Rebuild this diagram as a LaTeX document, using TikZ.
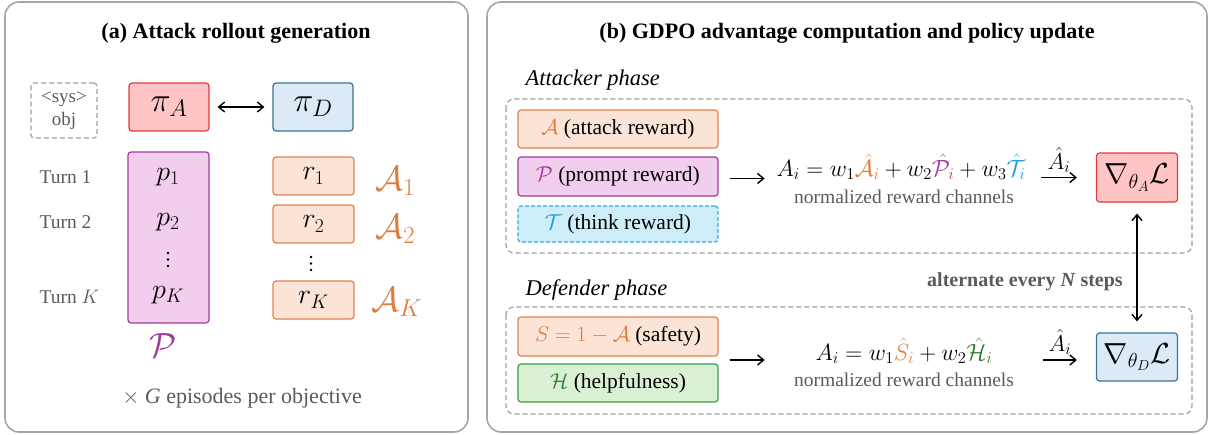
\RequirePackage{fix-cm}
\documentclass[tikz,border=0pt]{standalone}
\usepackage{fontspec}
\setmainfont{Liberation Serif}
\usetikzlibrary{arrows.meta,calc}
\definecolor{panelgray}{HTML}{A6A6A6}
\definecolor{dashgray}{HTML}{A0A0A0}
\definecolor{redfill}{HTML}{FFC5C5}
\definecolor{redline}{HTML}{E03A3A}
\definecolor{bluefill}{HTML}{DCE9F6}
\definecolor{blueline}{HTML}{3C728F}
\definecolor{pinkfill}{HTML}{F1CDEE}
\definecolor{purp}{HTML}{A03A9E}
\definecolor{orfill}{HTML}{FBE4D6}
\definecolor{orline}{HTML}{E2814F}
\definecolor{orangeA}{HTML}{E27A3A}
\definecolor{cyanfill}{HTML}{CDEDF9}
\definecolor{cyanline}{HTML}{3AA6D8}
\definecolor{cyanT}{HTML}{1E9FD8}
\definecolor{greenfill}{HTML}{D9F0D3}
\definecolor{greenline}{HTML}{3E9A48}
\definecolor{greenH}{HTML}{2F7D32}
\definecolor{txtgray}{HTML}{5A5A5A}
\newcommand\fsz[1]{\fontsize{#1}{#1}\selectfont}
\begin{document}
\begin{tikzpicture}[x=1pt,y=-1pt,
  panel/.style={draw=panelgray,line width=1.6pt,rounded corners=14pt},
  phasebox/.style={draw=dashgray,line width=1.2pt,dash pattern=on 5pt off 3pt,rounded corners=8pt},
  box/.style={rectangle,rounded corners=3pt,line width=1.2pt,inner sep=0pt},
  redbox/.style={box,draw=redline,fill=redfill},
  bluebox/.style={box,draw=blueline,fill=bluefill},
  orbox/.style={box,draw=orline,fill=orfill},
  arr/.style={-{Straight Barb[length=6pt,width=10pt]},line width=1.4pt},
  darr/.style={{Straight Barb[length=6pt,width=10pt]}-{Straight Barb[length=6pt,width=10pt]},line width=1.4pt},
  title/.style={font=\fsz{22}\bfseries},
  turn/.style={anchor=west,text=txtgray,font=\fsz{19.5}},
  lbl/.style={font=\fsz{21.5}},
  gray note/.style={text=txtgray,font=\fsz{19.5}},
  phase/.style={anchor=west,font=\fsz{22.5}\itshape},
  pmath/.style={font=\fsz{28}},
  bigA/.style={anchor=west,text=orangeA,font=\fsz{35}},
  frm/.style={font=\fsz{23.5},inner sep=0pt},
  grad/.style={font=\fsz{29}},
  vdot/.style={circle,fill=black,inner sep=0pt,minimum size=2.8pt}]
\useasboundingbox (0,0) rectangle (1210,434);
% panels
\draw[panel] (5,2) rectangle (468,432);
\draw[panel] (487,2) rectangle (1207,432);
% ---------- panel (a)
\node[title] (ta) at (236,33) {(a) Attack rollout generation};
\node[draw=dashgray,line width=1.2pt,dash pattern=on 5pt off 3pt,rounded corners=3pt,
      minimum width=66pt,minimum height=55pt,align=center,text=txtgray,font=\fontsize{19}{23}\selectfont]
      (sys) at (64,110.5) {\textless sys\textgreater\\obj};
\node[redbox,minimum width=80pt,minimum height=48pt,font=\fsz{34}] (piA) at (169,107) {$\pi_A$};
\node[bluebox,minimum width=80pt,minimum height=48pt,font=\fsz{34}] (piD) at (313,107) {$\pi_D$};
\draw[darr,shorten <=8pt,shorten >=8pt] (piA.east) -- (piD.west);
\node[box,draw=purp,fill=pinkfill,minimum width=81pt,minimum height=171pt] (Pcol) at (168.5,237.5) {};
\node[pmath] (p1) at (168,177) {$p_1$};
\node[pmath] (p2) at (168,222) {$p_2$};
\node[vdot] (pd1) at (168,253) {};
\node[vdot] (pd2) at (168,259.5) {};
\node[vdot] (pd3) at (168,266) {};
\node[pmath] (pK) at (168,295) {$p_K$};
\node[turn] (t1) at (36,177) {Turn 1};
\node[turn] (t2) at (36,222) {Turn 2};
\node[turn] (tK) at (36,297) {Turn $K$};
\node[orbox,minimum width=81pt,minimum height=38pt,pmath] (r1) at (313.5,176) {$r_1$};
\node[orbox,minimum width=81pt,minimum height=38pt,pmath] (r2) at (313.5,224) {$r_2$};
\node[vdot] (rd1) at (311,257) {};
\node[vdot] (rd2) at (311,263.5) {};
\node[vdot] (rd3) at (311,270) {};
\node[orbox,minimum width=81pt,minimum height=38pt,pmath] (rK) at (313.5,300) {$r_K$};
\node[bigA] (A1) at (372,181) {$\mathcal{A}_1$};
\node[bigA] (A2) at (372,229) {$\mathcal{A}_2$};
\node[bigA] (AK) at (368,302) {$\mathcal{A}_K$};
\node[text=purp,font=\fsz{35}] (Pcal) at (163,346) {$\mathcal{P}$};
\node[text=txtgray,font=\fsz{22}] (eps) at (242,398) {$\times$ \textit{G} episodes per objective};
% ---------- panel (b)
\node[title] (tb) at (847,33) {(b) GDPO advantage computation and policy update};
\node[phase] (att) at (522,80) {Attacker phase};
\draw[phasebox] (506,99) rectangle (1192,253);
\node[orbox,minimum width=200pt,minimum height=38pt,lbl] (Ab) at (618,129) {\textcolor{orangeA}{$\mathcal{A}$} (attack reward)};
\node[box,draw=purp,fill=pinkfill,minimum width=200pt,minimum height=39pt,lbl] (Pb) at (618,176.5) {\textcolor{purp}{$\mathcal{P}$} (prompt reward)};
\node[box,draw=cyanline,fill=cyanfill,dash pattern=on 4pt off 2pt,minimum width=200pt,minimum height=36pt,lbl] (Tb) at (618,224) {\textcolor{cyanT}{$\mathcal{T}$} (think reward)};
\node[frm] (fA) at (901,167)
  {$A_i = w_1{\color{orangeA}\hat{\mathcal{A}}_i} + w_2{\color{purp}\hat{\mathcal{P}}_i} + w_3{\color{cyanT}\hat{\mathcal{T}}_i}$};
\node[gray note] (nA) at (904,197) {normalized reward channels};
\node[redbox,minimum width=81pt,minimum height=49pt,grad] (gA) at (1137,177.5) {$\nabla_{\theta_A}\mathcal{L}$};
\draw[arr] ($(Pb.east)+(11,2)$) -- ($(Pb.east)+(46,2)$);
\draw[arr] ($(gA.west)+(-55,0)$) -- node[above=1pt,font=\fsz{23}] (hA) {$\hat{A}_i$} ($(gA.west)+(-19,0)$);
\node[phase] (def) at (522,290) {Defender phase};
\draw[phasebox] (506,307) rectangle (1192,414);
\node[orbox,minimum width=200pt,minimum height=39pt,lbl] (Sb) at (618,336.5) {\textcolor{orangeA}{$S = 1 - \mathcal{A}$} (safety)};
\node[box,draw=greenline,fill=greenfill,minimum width=200pt,minimum height=38pt,lbl] (Hb) at (618,383) {\textcolor{greenH}{$\mathcal{H}$} (helpfulness)};
\node[frm] (fD) at (904,351)
  {$A_i = w_1{\color{orangeA}\hat{S}_i} + w_2{\color{greenH}\hat{\mathcal{H}}_i}$};
\node[gray note] (nD) at (904,380) {normalized reward channels};
\node[bluebox,minimum width=81pt,minimum height=48pt,grad] (gD) at (1137,357) {$\nabla_{\theta_D}\mathcal{L}$};
\coordinate (mid) at ($(Sb.south east)!0.5!(Hb.north east)$);
\draw[arr] ($(mid)+(11,0)$) -- ($(mid)+(46,0)$);
\draw[arr] ($(gD.west)+(-53,3)$) -- node[above=1pt,font=\fsz{23}] (hD) {$\hat{A}_i$} ($(gD.west)+(-19,3)$);
\draw[darr,shorten <=11pt,shorten >=11pt] (gA.south) -- (gD.north);
\node[text=txtgray,font=\fsz{20}\bfseries] (alt) at (1025,282) {alternate every \textit{N} steps};
\end{tikzpicture}
\end{document}
